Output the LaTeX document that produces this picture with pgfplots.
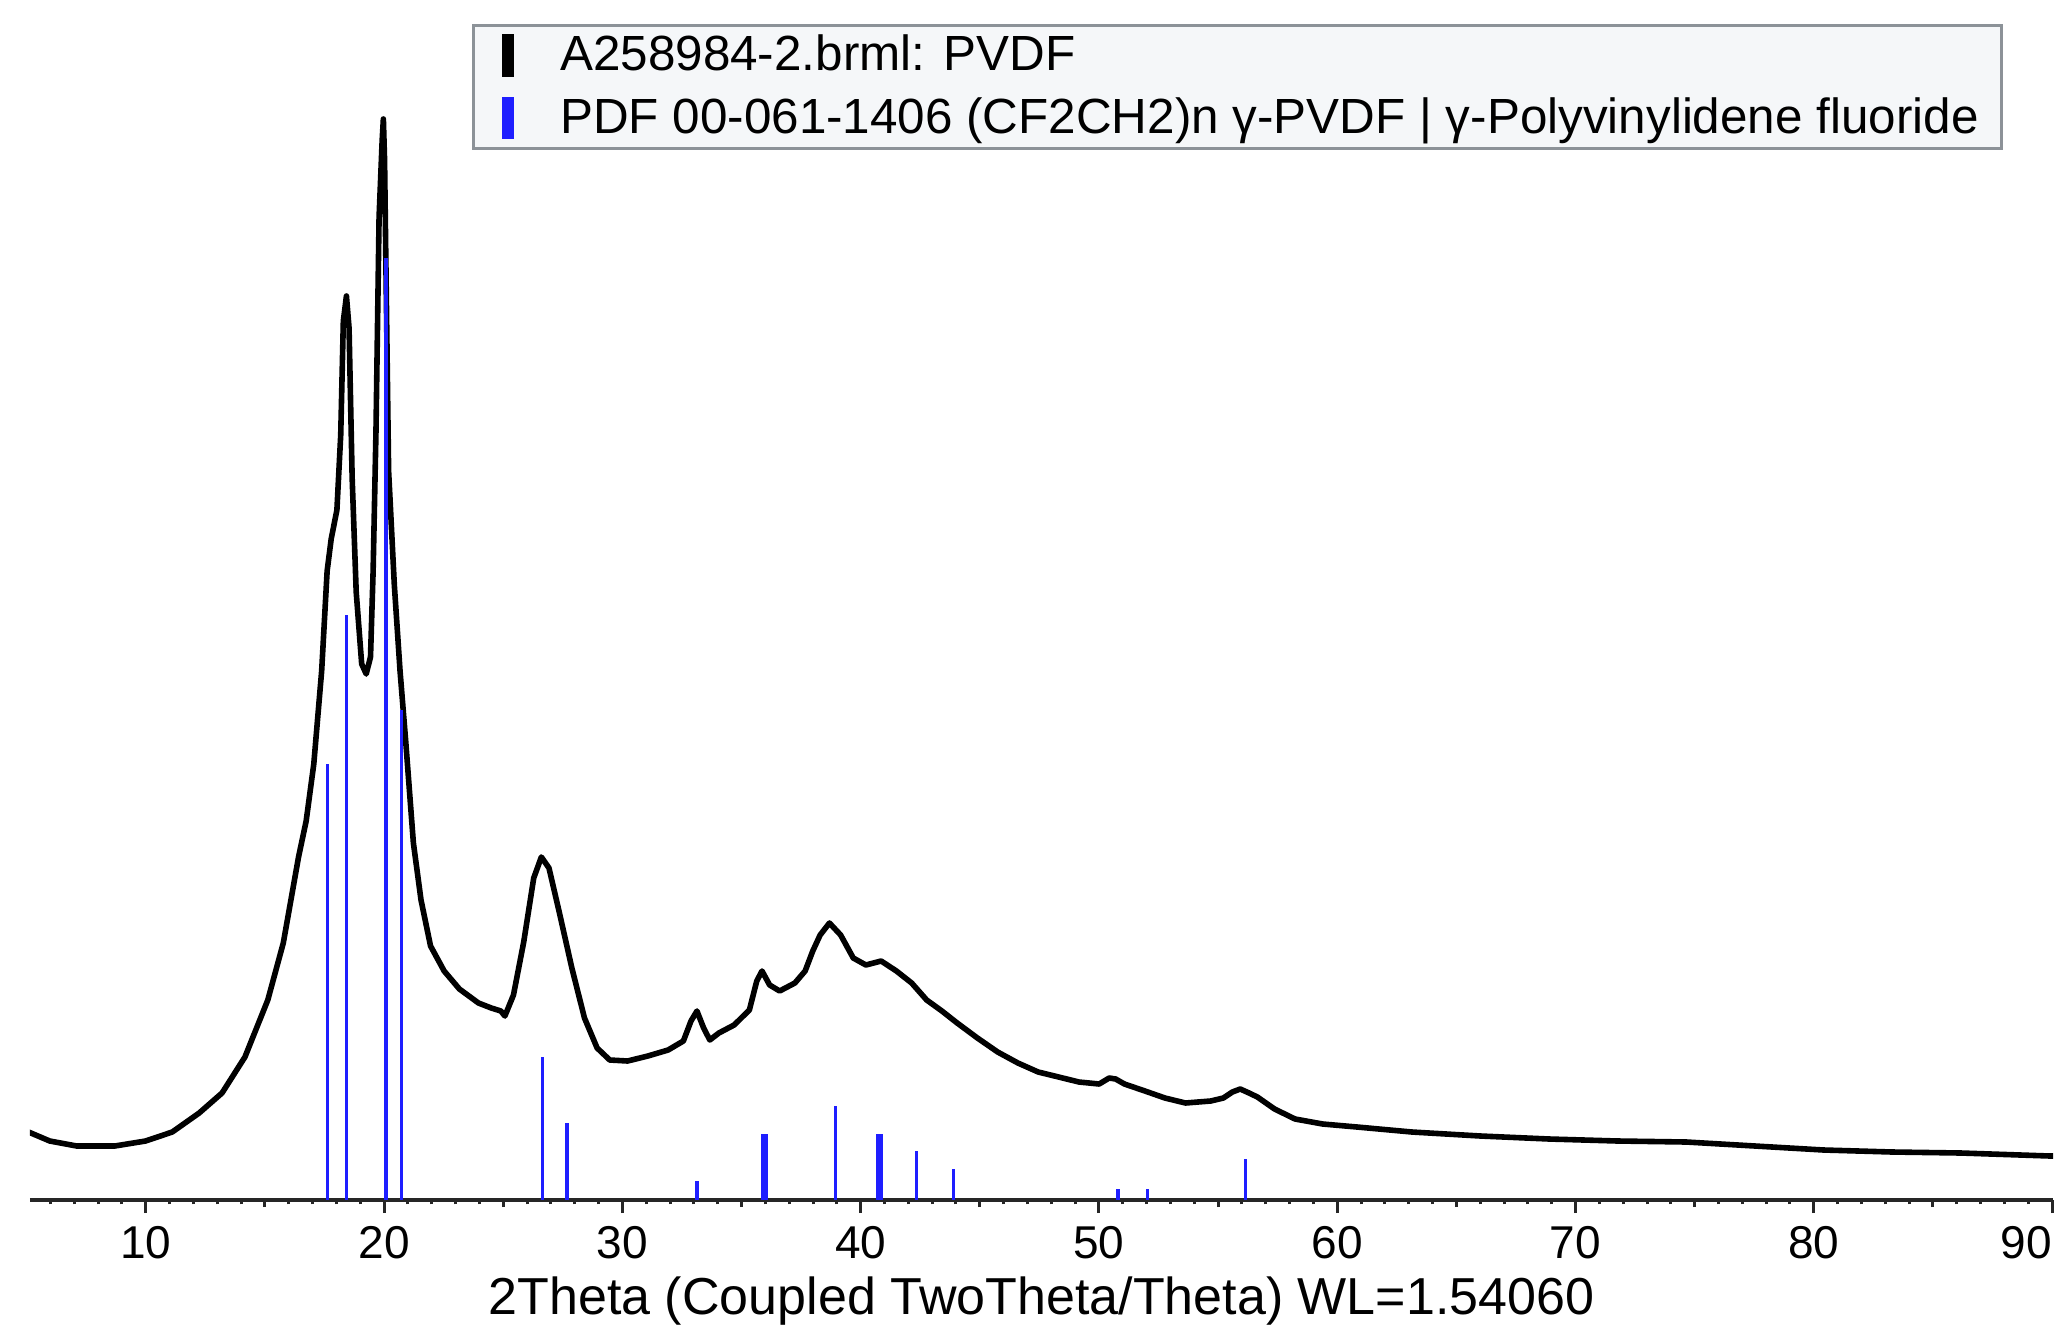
\documentclass[border=0pt]{standalone}
\usepackage{pgfplots}
\pgfplotsset{compat=1.18}
\usepackage{fontspec}
\setmainfont{Liberation Sans}
\definecolor{legfill}{RGB}{245,247,249}
\definecolor{legdraw}{RGB}{140,146,152}
\definecolor{stickblue}{RGB}{30,30,255}
\begin{document}
\begin{tikzpicture}
\path[use as bounding box] (-7.5pt,-34.5pt) rectangle (510.5pt,300pt);
\begin{axis}[
  scale only axis,
  width=505.75pt, height=300pt,
  xmin=5.14, xmax=90.04, ymin=0, ymax=1200,
  axis x line=bottom, axis y line=none,
  x axis line style={-, line width=0.8pt, black!85},
  xtick={10,20,...,90},
  xticklabels={10,20,30,40,50,60,70,80,\makebox[0pt][r]{90}},
  minor xtick={6,7,...,89},
  extra x ticks={15,25,...,85},
  extra x tick labels={},
  extra x tick style={major tick length=1.8pt},
  tick align=outside,
  major tick length=3.3pt,
  minor tick length=1.1pt,
  tick style={line width=0.75pt, black!85},
  /pgf/number format/assume math mode=true,
  xticklabel style={font=\fontsize{11.5}{13}\selectfont, anchor=base, yshift=-11.4pt},
  xlabel={2Theta (Coupled TwoTheta/Theta) WL=1.54060},
  xlabel style={font=\fontsize{13}{15}\selectfont, at={(axis description cs:0.5,0)}, anchor=base, yshift=-28.6pt},
  legend style={at={(0.2185,0.98)}, anchor=north west, fill=legfill, draw=legdraw, line width=0.75pt,
    font=\fontsize{12.35}{14}\selectfont, inner xsep=4.2pt, inner ysep=0.8pt, row sep=2.2pt,
    nodes={inner sep=1.5pt}},
  legend cell align=left,
]
\addplot[black, line width=1.4pt, line join=round,
  legend image code/.code={\fill[black, draw=none] (0pt,-5.3pt) rectangle (3pt,5.3pt); \path[draw=none] (-2.97pt,0pt) -- (13pt,0pt);}] coordinates {
(5.08,68) (5.97,59) (7.10,54) (8.70,54) (9.99,59) (11.11,68) (12.24,87) (13.20,107)
(14.16,143) (15.12,200) (15.77,257) (16.41,343) (16.73,379) (17.05,436) (17.38,529)
(17.61,629) (17.78,661) (18.02,690) (18.18,765) (18.29,879) (18.42,904) (18.53,872)
(18.66,722) (18.83,608) (19.06,536) (19.25,526) (19.43,543) (19.54,629) (19.66,769)
(19.79,983) (19.92,1060) (19.97,1081) (20.02,1040) (20.07,947) (20.19,729) (20.43,615)
(20.67,529) (20.91,458) (21.23,357) (21.55,300) (21.95,254) (22.52,229) (23.16,211)
(23.96,197) (24.50,192) (24.90,189) (25.07,184) (25.43,205) (25.86,258) (26.28,322)
(26.60,343) (26.92,332) (27.35,288) (27.88,232) (28.41,182) (28.94,152) (29.47,140)
(30.22,139) (31.07,144) (31.92,150) (32.56,159) (32.88,179) (33.13,189) (33.41,172)
(33.67,160) (34.05,167) (34.69,175) (35.33,190) (35.64,219) (35.86,229) (36.18,215)
(36.60,209) (37.24,217) (37.67,229) (37.99,249) (38.30,265) (38.69,277) (39.16,265)
(39.69,242) (40.22,235) (40.86,239) (41.50,229) (42.14,217) (42.77,200) (43.41,189)
(44.05,177) (44.90,162) (45.75,148) (46.60,137) (47.45,128) (48.31,123) (49.16,118)
(50.01,116) (50.43,122) (50.70,121) (51.07,116) (51.93,109) (52.77,102) (53.63,97)
(54.69,99) (55.22,102) (55.60,108) (55.93,111) (56.30,107) (56.65,103) (57.37,91)
(58.23,81) (59.39,76) (60.83,73) (63.13,68) (66.01,64) (68.89,61) (71.77,59)
(74.65,58) (77.53,54) (80.41,50) (83.29,48) (86.17,47) (89.91,44) (90.04,44)
};
\addlegendentry{A258984-2.brml: PVDF}
\addplot[ycomb, stickblue, line width=0.8pt, forget plot] coordinates {
(17.62,436) (18.42,585) (20.08,942) (20.72,490) (26.65,143) (27.68,77) (33.13,19)
(38.94,94) (42.35,49) (43.88,31) (50.80,11) (52.05,11) (56.15,41)
};
\addplot[ycomb, stickblue, line width=1.6pt,
  legend image code/.code={\fill[stickblue, draw=none] (0pt,-5.3pt) rectangle (3pt,5.3pt); \path[draw=none] (-2.97pt,0pt) -- (13pt,0pt);}]
  coordinates {(35.96,66) (40.79,66)};
\addlegendentry{PDF 00-061-1406 (CF2CH2)n γ-PVDF | γ-Polyvinylidene fluoride}
\end{axis}
\end{tikzpicture}
\end{document}
